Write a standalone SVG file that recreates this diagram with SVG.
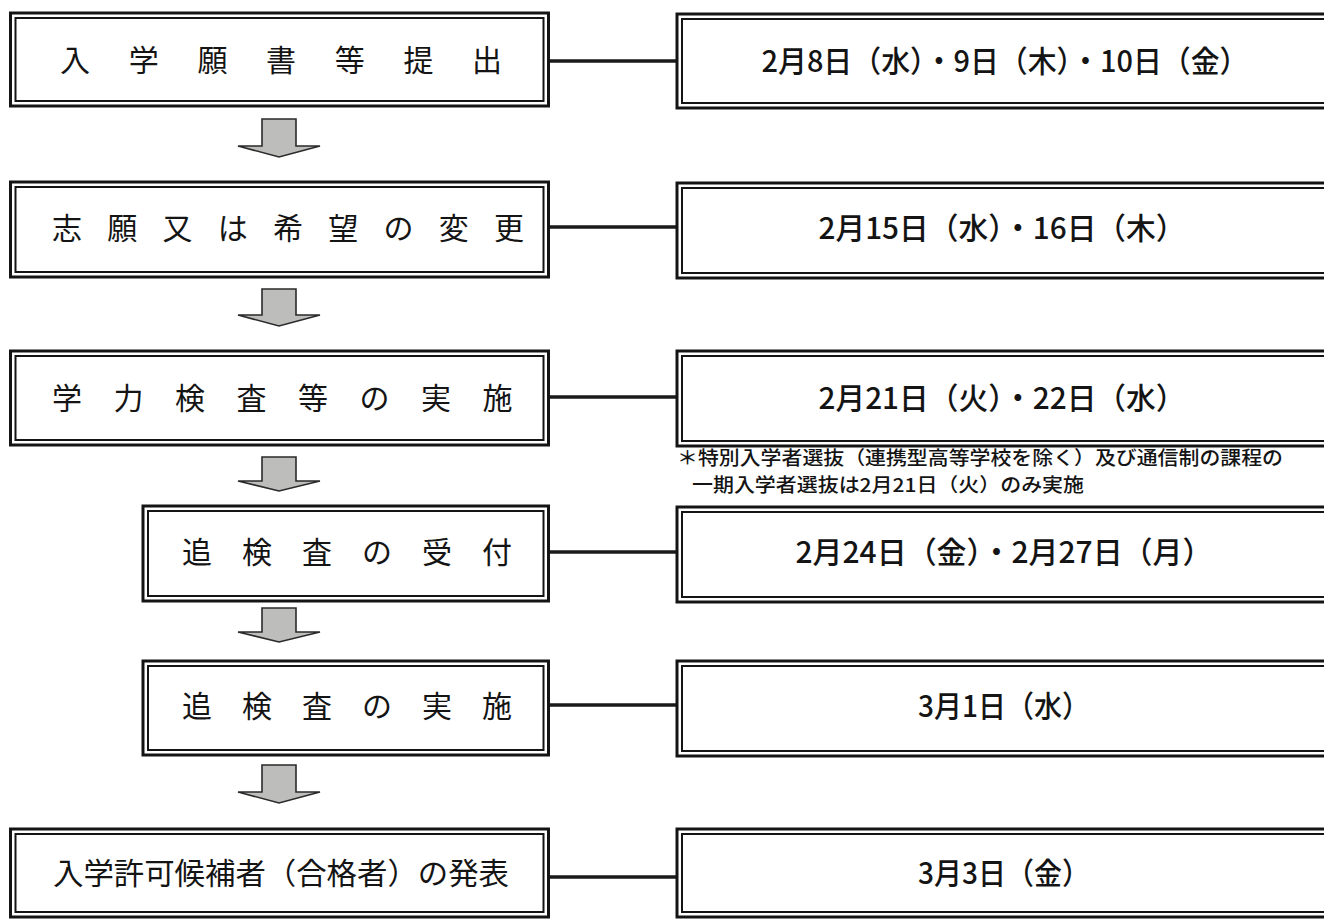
<svg xmlns="http://www.w3.org/2000/svg" width="1324" height="919" viewBox="0 0 1324 919">
<defs>
<style>
.bg{fill:#ffffff}
.outer{fill:#ffffff;stroke:#141414;stroke-width:3}
.inner{fill:none;stroke:#141414;stroke-width:2}
.conn{stroke:#1a1a1a;stroke-width:3.5;fill:none}
.arrow{fill:#bdbdbb;stroke:#2a2a2a;stroke-width:1.6;stroke-linejoin:miter}
.lt{font-family:"Noto Sans CJK JP","Noto Sans CJK SC",sans-serif;font-size:30px;fill:#141414;text-anchor:middle}
.rt{font-family:"Noto Sans CJK JP","Noto Sans CJK SC",sans-serif;font-size:30px;font-weight:500;fill:#141414;text-anchor:middle}
.note{font-family:"Noto Sans CJK JP","Noto Sans CJK SC",sans-serif;font-size:19px;font-weight:500;fill:#141414}
</style>
</defs>
<rect class="bg" x="0" y="0" width="1324" height="919"/>

<g id="connectors">
<line class="conn" x1="549" y1="61" x2="677" y2="61"/>
<line class="conn" x1="549" y1="227" x2="677" y2="227"/>
<line class="conn" x1="549" y1="397" x2="677" y2="397"/>
<line class="conn" x1="549" y1="552" x2="677" y2="552"/>
<line class="conn" x1="549" y1="705" x2="677" y2="705"/>
<line class="conn" x1="549" y1="877" x2="677" y2="877"/>
<polygon class="arrow" points="262,119 296,119 296,146 320,146 279,157 238,146 262,146"/>
<polygon class="arrow" points="262,289 296,289 296,315 320,315 279,326 238,315 262,315"/>
<polygon class="arrow" points="262,457 296,457 296,481 320,481 279,491 238,481 262,481"/>
<polygon class="arrow" points="262,608 296,608 296,632 320,632 279,642 238,632 262,632"/>
<polygon class="arrow" points="262,765 296,765 296,792 320,792 279,803 238,792 262,792"/>
</g>

<g id="step1">
<rect class="outer" x="10.5" y="13" width="538" height="93"/>
<rect class="inner" x="15.5" y="18" width="528" height="83"/>
<text class="lt" x="75 143.7 212.4 281.1 349.8 418.5 487" y="71">入学願書等提出</text>
</g>
<g id="date1">
<rect class="outer" x="677" y="14" width="700" height="94"/>
<rect class="inner" x="682" y="19" width="690" height="84"/>
<text class="rt" x="1005" y="72" textLength="487" lengthAdjust="spacingAndGlyphs">2月8日（水）・9日（木）・10日（金）</text>
</g>

<g id="step2">
<rect class="outer" x="10.5" y="182" width="538" height="95"/>
<rect class="inner" x="15.5" y="187" width="528" height="85"/>
<text class="lt" x="67 122.3 177.5 232.8 288 343.3 398.5 453.8 509" y="239">志願又は希望の変更</text>
</g>
<g id="date2">
<rect class="outer" x="677" y="183" width="700" height="95"/>
<rect class="inner" x="682" y="188" width="690" height="85"/>
<text class="rt" x="1002" y="239" textLength="367" lengthAdjust="spacingAndGlyphs">2月15日（水）・16日（木）</text>
</g>

<g id="step3">
<rect class="outer" x="10.5" y="351" width="538" height="94"/>
<rect class="inner" x="15.5" y="356" width="528" height="84"/>
<text class="lt" x="67 128.5 190 251.5 313 374.5 436 497.5" y="409">学力検査等の実施</text>
</g>
<g id="date3">
<rect class="outer" x="677" y="351" width="700" height="95"/>
<rect class="inner" x="682" y="356" width="690" height="85"/>
<text class="rt" x="1002" y="409" textLength="367" lengthAdjust="spacingAndGlyphs">2月21日（火）・22日（水）</text>
</g>

<g id="note">
<text class="note" x="677" y="465" textLength="606" lengthAdjust="spacingAndGlyphs">＊特別入学者選抜（連携型高等学校を除く）及び通信制の課程の</text>
<text class="note" x="692" y="492" textLength="392" lengthAdjust="spacingAndGlyphs">一期入学者選抜は2月21日（火）のみ実施</text>
</g>

<g id="step4">
<rect class="outer" x="143" y="506" width="405.5" height="95"/>
<rect class="inner" x="148" y="511" width="395.5" height="85"/>
<text class="lt" x="197 257 317 377 437 497" y="563">追検査の受付</text>
</g>
<g id="date4">
<rect class="outer" x="677" y="507" width="700" height="95"/>
<rect class="inner" x="682" y="512" width="690" height="85"/>
<text class="rt" x="1004" y="563" textLength="417" lengthAdjust="spacingAndGlyphs">2月24日（金）・2月27日（月）</text>
</g>

<g id="step5">
<rect class="outer" x="143" y="661" width="405.5" height="94"/>
<rect class="inner" x="148" y="666" width="395.5" height="84"/>
<text class="lt" x="197 257 317 377 437 497" y="717">追検査の実施</text>
</g>
<g id="date5">
<rect class="outer" x="677" y="661" width="700" height="95"/>
<rect class="inner" x="682" y="666" width="690" height="85"/>
<text class="rt" x="1004" y="717" textLength="172" lengthAdjust="spacingAndGlyphs">3月1日（水）</text>
</g>

<g id="step6">
<rect class="outer" x="10.5" y="829" width="538" height="88"/>
<rect class="inner" x="15.5" y="834" width="528" height="78"/>
<text class="lt" x="281" y="884" textLength="456" lengthAdjust="spacingAndGlyphs">入学許可候補者（合格者）の発表</text>
</g>
<g id="date6">
<rect class="outer" x="677" y="829" width="700" height="88"/>
<rect class="inner" x="682" y="834" width="690" height="78"/>
<text class="rt" x="1004" y="884" textLength="172" lengthAdjust="spacingAndGlyphs">3月3日（金）</text>
</g>
</svg>
